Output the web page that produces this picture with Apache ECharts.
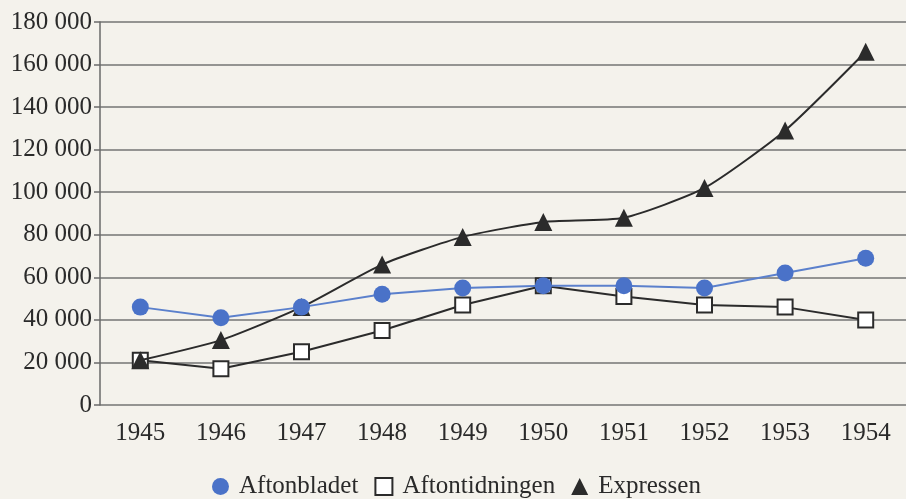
<!DOCTYPE html>
<html>
<head>
<meta charset="utf-8">
<script src="https://cdn.jsdelivr.net/npm/echarts@6/dist/echarts.min.js"></script>
<style>
  html, body { margin: 0; padding: 0; background: #f4f2ec; }
  #chart { width: 906px; height: 499px; }
</style>
</head>
<body>
<div id="chart"></div>
<script>
// Upplagor 1945-1954
const years = ["1945", "1946", "1947", "1948", "1949", "1950", "1951", "1952", "1953", "1954"];
const aftonbladet = [46000, 41000, 46000, 52000, 55000, 56000, 56000, 55000, 62000, 69000];
const aftontidningen = [21000, 17000, 25000, 35000, 47000, 56000, 51000, 47000, 46000, 40000];
const expressen = [21000, 30500, 46000, 66000, 79000, 86000, 88000, 102000, 129000, 166000];
const yTicks = { min: 0, max: 180000, interval: 20000 };

const chart = echarts.init(document.getElementById("chart"));
const serif = "Liberation Serif";
const ink = "#2b2b2b";

const option = {
  backgroundColor: "#f4f2ec",
  animation: false,
  textStyle: { fontFamily: serif },
  grid: { left: 100, top: 22, width: 811, bottom: 94 },
  legend: {
    top: 469,
    left: 207,
    itemWidth: 17,
    itemHeight: 17,
    itemGap: 16,
    textStyle: { fontFamily: serif, fontSize: 25, color: "#2a2a2a", padding: [0, 0, 0, 5] },
    data: [
      { name: "Aftonbladet", icon: "circle" },
      { name: "Aftontidningen", icon: "rect" },
      { name: "Expressen", icon: "triangle" },
    ],
  },
  xAxis: {
    type: "category",
    data: years,
    boundaryGap: true,
    axisLine: { show: false },
    axisTick: { show: false },
    axisLabel: { fontSize: 25, color: "#2a2a2a", margin: 16 },
  },
  yAxis: {
    type: "value",
    min: yTicks.min,
    max: yTicks.max,
    interval: yTicks.interval,
    axisLine: { show: true, lineStyle: { color: "#6a6a6a", width: 1.5 } },
    axisTick: { show: true, length: 6, lineStyle: { color: "#6a6a6a", width: 1.5 } },
    splitLine: { lineStyle: { color: "#757575", width: 1.5 } },
    axisLabel: {
      fontSize: 25,
      color: "#2a2a2a",
      margin: 8,
      formatter: function (v) {
        return String(v).replace(/\B(?=(\d{3})+(?!\d))/g, " ");
      },
    },
  },
  series: [
    {
      name: "Aftontidningen",
      type: "line",
      data: aftontidningen,
      symbol: "rect",
      symbolSize: 15,
      lineStyle: { color: ink, width: 2 },
      itemStyle: { color: "#ffffff", borderColor: ink, borderWidth: 2 },
      z: 2,
    },
    {
      name: "Expressen",
      type: "line",
      data: expressen,
      smooth: 0.2,
      symbol: "triangle",
      symbolSize: 18,
      lineStyle: { color: ink, width: 2 },
      itemStyle: { color: ink },
      z: 3,
    },
    {
      name: "Aftonbladet",
      type: "line",
      data: aftonbladet,
      symbol: "circle",
      symbolSize: 17,
      lineStyle: { color: "#5b80cc", width: 2 },
      itemStyle: { color: "#4a72c8" },
      z: 4,
    },
  ],
};

chart.setOption(option);
</script>
</body>
</html>
